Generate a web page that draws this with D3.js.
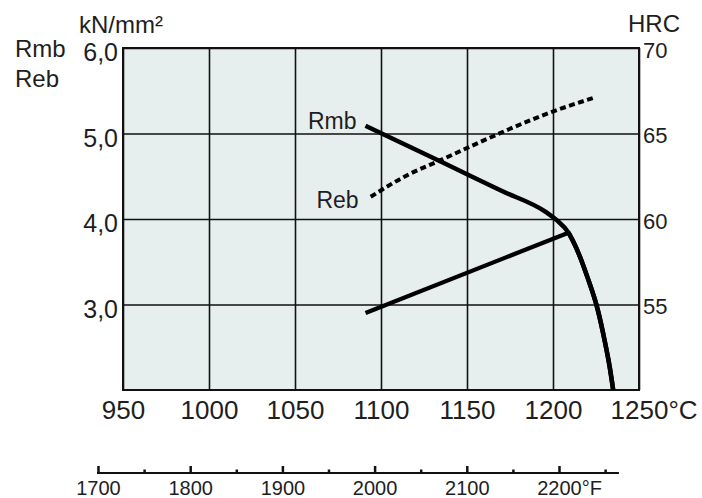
<!DOCTYPE html>
<html>
<head>
<meta charset="utf-8">
<script src="https://cdn.jsdelivr.net/npm/d3@7"></script>
<style>
  body { margin: 0; background: #fff; }
  svg { display: block; font-family: "Liberation Sans", Arial, sans-serif; }
  text { fill: #1e1e1e; }
  .grid line { stroke: #111; stroke-width: 1.6; }
  .grid path { display: none; }
</style>
</head>
<body>
<div id="chart"></div>
<script>
// temperature axis (°C) and Fahrenheit scale
const cTicks = [950, 1000, 1050, 1100, 1150, 1200, 1250];
const fMajor = [1700, 1800, 1900, 2000, 2100, 2200];
const fMinor = [1750, 1850, 1950, 2050, 2150, 2250];
const leftTicks = [3, 4, 5, 6];
const rightTicks = [55, 60, 65, 70];

// Rmb (kN/mm²), solid
const rmbTemp  = [1091, 1135, 1170, 1196, 1202, 1209, 1214, 1220, 1226, 1230, 1233, 1235];
const rmbValue = [5.09, 4.67, 4.33, 4.08, 3.99, 3.84, 3.64, 3.32, 2.94, 2.58, 2.27, 2.0];

// Reb (kN/mm²), dashed
const rebTemp  = [1094, 1115, 1136, 1150, 1199, 1224];
const rebValue = [4.26, 4.51, 4.70, 4.83, 5.25, 5.42];

// hardness HRC, solid: straight rise to the knee, then the drop
const hrcTemp  = [1091, 1209, 1214, 1220, 1226, 1230, 1233, 1235];
const hrcValue = [54.5, 59.2, 58.2, 56.6, 54.7, 52.9, 51.3, 50.0];
const hrcKnee = 1;

const W = 702, H = 498;
const margin = {top: 48, left: 123},
    width = 516,
    height = 342;

const svg = d3.select("#chart")
    .append("svg")
    .attr("width", W)
    .attr("height", H);

const g = svg.append("g")
    .attr("transform", `translate(${margin.left},${margin.top})`);

const x = d3.scaleLinear().domain([950, 1250]).range([0, width]);
const y = d3.scaleLinear().domain([2, 6]).range([height, 0]);
const yR = d3.scaleLinear().domain([50, 70]).range([height, 0]);

g.append("rect")
    .attr("width", width)
    .attr("height", height)
    .attr("fill", "#e7efee");

// grid
g.append("g")
    .attr("class", "grid")
    .attr("transform", `translate(0,${height})`)
    .call(d3.axisBottom(x).tickValues(cTicks).tickSize(-height).tickFormat(""));
g.append("g")
    .attr("class", "grid")
    .call(d3.axisLeft(y).tickValues(leftTicks).tickSize(-width).tickFormat(""));

g.append("rect")
    .attr("width", width)
    .attr("height", height)
    .attr("fill", "none")
    .attr("stroke", "#111")
    .attr("stroke-width", 2);

// °C labels
const xAx = g.append("g")
    .attr("transform", `translate(0,${height})`)
    .call(d3.axisBottom(x).tickValues(cTicks).tickSize(0).tickPadding(11).tickFormat(d3.format("d")));
xAx.select(".domain").remove();
xAx.selectAll("text").attr("font-size", 26).attr("fill", "#1e1e1e");
{
    const last = xAx.selectAll(".tick text").filter(d => d === 1250);
    const half = last.node().getComputedTextLength() / 2;
    last.attr("text-anchor", "start").attr("x", -half).append("tspan").text("°C");
}

// left axis labels
const yAx = g.append("g")
    .call(d3.axisLeft(y).tickValues(leftTicks).tickSize(0).tickPadding(5)
        .tickFormat(d => d3.format(".1f")(d).replace(".", ",")));
yAx.select(".domain").remove();
yAx.selectAll("text").attr("font-size", 25).attr("dy", "0.5em").attr("fill", "#1e1e1e");

// right axis labels
const yRAx = g.append("g")
    .attr("transform", `translate(${width},0)`)
    .call(d3.axisRight(yR).tickValues(rightTicks).tickSize(0).tickPadding(4));
yRAx.select(".domain").remove();
yRAx.selectAll("text").attr("font-size", 22).attr("dy", "0.42em").attr("fill", "#1e1e1e");

// unit labels
svg.append("text").attr("x", 79).attr("y", 33).attr("font-size", 24).text("kN/mm²");
svg.append("text").attr("x", 15).attr("y", 57).attr("font-size", 24).text("Rmb");
svg.append("text").attr("x", 15).attr("y", 87).attr("font-size", 24).text("Reb");
svg.append("text").attr("x", 628).attr("y", 32).attr("font-size", 24).text("HRC");

// curves
const lineRange = (xs, ys, sy, curve, a, b) => d3.line()
    .x(i => x(xs[i]))
    .y(i => sy(ys[i]))
    .curve(curve)(d3.range(a, b));

g.append("path")
    .attr("d", lineRange(hrcTemp, hrcValue, yR, d3.curveLinear, 0, hrcKnee + 1))
    .attr("fill", "none")
    .attr("stroke", "#000")
    .attr("stroke-width", 4.2);
g.append("path")
    .attr("d", lineRange(hrcTemp, hrcValue, yR, d3.curveMonotoneX, hrcKnee, hrcTemp.length))
    .attr("fill", "none")
    .attr("stroke", "#000")
    .attr("stroke-width", 4.5);

g.append("path")
    .attr("d", lineRange(rmbTemp, rmbValue, y, d3.curveMonotoneX, 0, rmbTemp.length))
    .attr("fill", "none")
    .attr("stroke", "#000")
    .attr("stroke-width", 4.5);

g.append("path")
    .attr("d", lineRange(rebTemp, rebValue, y, d3.curveMonotoneX, 0, rebTemp.length))
    .attr("fill", "none")
    .attr("stroke", "#000")
    .attr("stroke-width", 4)
    .attr("stroke-dasharray", "6,3.5");

// series labels
g.append("text")
    .attr("x", x(rmbTemp[0]) - 9)
    .attr("y", y(rmbValue[0]) + 3)
    .attr("text-anchor", "end")
    .attr("font-size", 23)
    .text("Rmb");
g.append("text")
    .attr("x", x(rebTemp[0]) - 12)
    .attr("y", y(rebValue[0]) + 11)
    .attr("text-anchor", "end")
    .attr("font-size", 23)
    .text("Reb");

// Fahrenheit scale
const fx = d3.scaleLinear().domain([1700, 2200]).range([98, 559]);
const fy = 473;

svg.append("line")
    .attr("x1", fx(1700) - 1)
    .attr("x2", fx(2265))
    .attr("y1", fy)
    .attr("y2", fy)
    .attr("stroke", "#111")
    .attr("stroke-width", 2);

const fAx = svg.append("g")
    .attr("transform", `translate(0,${fy})`)
    .call(d3.axisBottom(fx).tickValues(fMajor).tickSize(-7).tickPadding(8).tickFormat(d3.format("d")));
fAx.select(".domain").remove();
fAx.selectAll("line").attr("stroke", "#111").attr("stroke-width", 2.5);
fAx.selectAll("text").attr("font-size", 20).attr("fill", "#1e1e1e");
{
    const last = fAx.selectAll(".tick text").filter(d => d === 2200);
    const half = last.node().getComputedTextLength() / 2;
    last.attr("text-anchor", "start").attr("x", -half).append("tspan").text("°F");
}

const fMin = svg.append("g")
    .attr("transform", `translate(0,${fy})`)
    .call(d3.axisBottom(fx).tickValues(fMinor).tickSize(-3.5).tickFormat(""));
fMin.select(".domain").remove();
fMin.selectAll("line").attr("stroke", "#111").attr("stroke-width", 2.5);
</script>
</body>
</html>
